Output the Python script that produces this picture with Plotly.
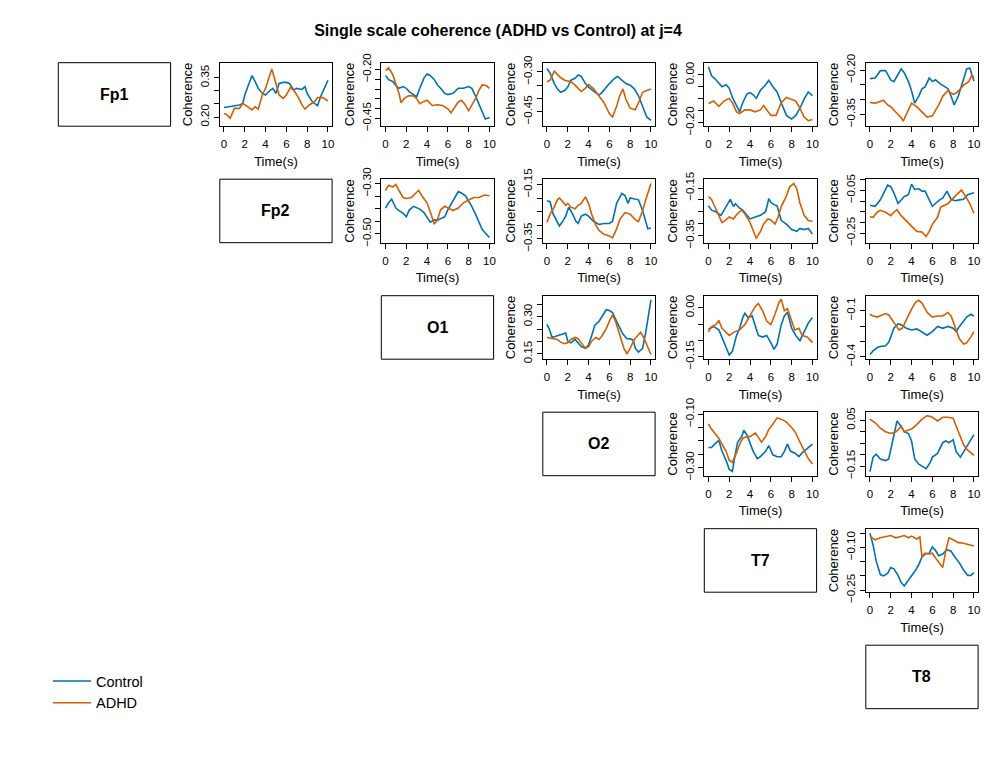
import plotly.graph_objects as go

# ---------------- data ----------------
channels = ["Fp1", "Fp2", "O1", "O2", "T7", "T8"]
time_ticks = [0, 2, 4, 6, 8, 10]
time_labels = ["0", "2", "4", "6", "8", "10"]
time_range = [-0.4, 10.4]

# Fp1 - Fp2
fp1_fp2_t_ctrl = [0, 0.5, 1, 1.5, 1.8, 2, 2.3, 2.7, 3, 3.3, 3.7, 4, 4.3, 4.7, 5, 5.3, 5.7, 6, 6.3, 6.7, 7, 7.5, 7.8, 8, 8.5, 9, 9.3, 9.7, 10]
fp1_fp2_ctrl = [0.236, 0.239, 0.243, 0.246, 0.252, 0.284, 0.316, 0.358, 0.335, 0.309, 0.29, 0.284, 0.297, 0.309, 0.29, 0.328, 0.332, 0.332, 0.328, 0.303, 0.309, 0.305, 0.316, 0.29, 0.258, 0.243, 0.278, 0.316, 0.34]
fp1_fp2_t_adhd = [0, 0.3, 0.6, 1, 1.5, 1.8, 2.3, 2.7, 3, 3.3, 3.7, 4, 4.3, 4.6, 5, 5.3, 5.7, 6, 6.4, 6.8, 7.2, 7.5, 7.8, 8.2, 8.7, 9, 9.5, 10]
fp1_fp2_adhd = [0.214, 0.208, 0.195, 0.233, 0.233, 0.252, 0.239, 0.227, 0.239, 0.23, 0.286, 0.309, 0.347, 0.383, 0.328, 0.284, 0.271, 0.284, 0.313, 0.297, 0.271, 0.246, 0.23, 0.246, 0.258, 0.274, 0.274, 0.261]
fp1_fp2_yrange = [0.165, 0.407]
fp1_fp2_yticks = [0.20, 0.25, 0.30, 0.35]
fp1_fp2_ylabels = ["0.20", "", "", "0.35"]

# Fp1 - O1
fp1_o1_t_ctrl = [0, 0.3, 0.7, 1, 1.3, 1.7, 2, 2.3, 2.7, 3, 3.3, 3.7, 4, 4.3, 4.7, 5, 5.3, 5.7, 6, 6.5, 7, 7.5, 8, 8.3, 8.7, 9, 9.3, 9.6, 10]
fp1_o1_ctrl = [-0.230, -0.252, -0.261, -0.282, -0.296, -0.287, -0.296, -0.314, -0.328, -0.34, -0.296, -0.244, -0.223, -0.23, -0.252, -0.279, -0.296, -0.322, -0.328, -0.322, -0.296, -0.296, -0.287, -0.296, -0.34, -0.375, -0.41, -0.453, -0.445]
fp1_o1_t_adhd = [0, 0.3, 0.7, 1, 1.3, 1.5, 1.8, 2.2, 2.7, 3, 3.3, 3.7, 4, 4.5, 5, 5.5, 6, 6.3, 6.7, 7, 7.3, 7.6, 8, 8.3, 8.7, 9, 9.3, 9.7, 10]
fp1_o1_adhd = [-0.205, -0.191, -0.226, -0.27, -0.322, -0.37, -0.349, -0.335, -0.335, -0.349, -0.375, -0.363, -0.357, -0.384, -0.38, -0.384, -0.401, -0.422, -0.392, -0.366, -0.357, -0.375, -0.41, -0.384, -0.345, -0.305, -0.279, -0.282, -0.296]
fp1_o1_yrange = [-0.490, -0.165]
fp1_o1_yticks = [-0.20, -0.25, -0.30, -0.35, -0.40, -0.45]
fp1_o1_ylabels = ["\u22120.20", "", "", "", "", "\u22120.45"]

# Fp1 - O2
fp1_o2_t_ctrl = [0, 0.3, 0.7, 1, 1.3, 1.7, 2, 2.3, 2.7, 3, 3.3, 3.7, 4, 4.5, 5, 5.3, 5.7, 6, 6.5, 6.8, 7.2, 7.6, 8, 8.4, 8.8, 9.2, 9.6, 10]
fp1_o2_ctrl = [-0.287, -0.304, -0.344, -0.364, -0.377, -0.37, -0.357, -0.331, -0.324, -0.311, -0.317, -0.344, -0.357, -0.374, -0.388, -0.377, -0.357, -0.344, -0.324, -0.317, -0.331, -0.344, -0.35, -0.364, -0.39, -0.43, -0.47, -0.483]
fp1_o2_t_adhd = [0, 0.3, 0.7, 1, 1.3, 1.7, 2, 2.3, 2.7, 3, 3.3, 3.7, 4, 4.5, 5, 5.5, 6, 6.3, 6.7, 7, 7.3, 7.6, 8, 8.5, 8.8, 9.2, 9.6, 10]
fp1_o2_adhd = [-0.337, -0.331, -0.297, -0.311, -0.321, -0.331, -0.335, -0.337, -0.35, -0.364, -0.374, -0.361, -0.348, -0.364, -0.39, -0.417, -0.457, -0.47, -0.43, -0.39, -0.364, -0.404, -0.437, -0.443, -0.417, -0.377, -0.37, -0.364]
fp1_o2_yrange = [-0.505, -0.265]
fp1_o2_yticks = [-0.30, -0.35, -0.40, -0.45]
fp1_o2_ylabels = ["\u22120.30", "", "", "\u22120.45"]

# Fp1 - T7
fp1_t7_t_ctrl = [0, 0.3, 0.7, 1, 1.3, 1.7, 2, 2.3, 2.7, 3, 3.3, 3.7, 4, 4.3, 4.6, 5, 5.5, 5.8, 6.2, 6.6, 7, 7.5, 8, 8.4, 8.8, 9.2, 9.6, 10]
fp1_t7_ctrl = [0.033, -0.005, -0.02, -0.035, -0.05, -0.042, -0.057, -0.095, -0.132, -0.155, -0.117, -0.08, -0.075, -0.084, -0.099, -0.065, -0.042, -0.024, -0.05, -0.072, -0.117, -0.17, -0.185, -0.17, -0.14, -0.102, -0.072, -0.087]
fp1_t7_t_adhd = [0, 0.5, 1, 1.5, 2, 2.3, 2.7, 3, 3.5, 4, 4.5, 5, 5.3, 5.7, 6, 6.5, 7, 7.5, 8, 8.4, 8.8, 9.2, 9.6, 10]
fp1_t7_adhd = [-0.12, -0.11, -0.132, -0.11, -0.099, -0.117, -0.155, -0.162, -0.147, -0.147, -0.155, -0.147, -0.129, -0.155, -0.17, -0.17, -0.117, -0.095, -0.102, -0.11, -0.14, -0.177, -0.192, -0.187]
fp1_t7_yrange = [-0.215, 0.050]
fp1_t7_yticks = [0.00, -0.05, -0.10, -0.15, -0.20]
fp1_t7_ylabels = ["0.00", "", "", "", "\u22120.20"]

# Fp1 - T8
fp1_t8_t_ctrl = [0, 0.5, 1, 1.5, 2, 2.3, 2.7, 3, 3.3, 3.7, 4, 4.3, 4.7, 5, 5.3, 5.7, 6, 6.3, 6.7, 7, 7.5, 7.8, 8.1, 8.5, 9, 9.3, 9.6, 10]
fp1_t8_ctrl = [-0.229, -0.227, -0.202, -0.202, -0.233, -0.239, -0.215, -0.196, -0.209, -0.239, -0.27, -0.312, -0.288, -0.263, -0.257, -0.227, -0.239, -0.233, -0.245, -0.251, -0.263, -0.288, -0.318, -0.288, -0.227, -0.196, -0.193, -0.237]
fp1_t8_t_adhd = [0, 0.5, 1, 1.3, 1.7, 2, 2.5, 3, 3.2, 3.5, 4, 4.5, 5, 5.5, 6, 6.3, 6.7, 7, 7.5, 8, 8.3, 8.7, 9, 9.5, 9.8, 10]
fp1_t8_adhd = [-0.31, -0.312, -0.306, -0.302, -0.318, -0.324, -0.343, -0.361, -0.373, -0.349, -0.312, -0.324, -0.343, -0.359, -0.355, -0.337, -0.312, -0.288, -0.27, -0.282, -0.278, -0.263, -0.251, -0.239, -0.217, -0.227]
fp1_t8_yrange = [-0.390, -0.175]
fp1_t8_yticks = [-0.20, -0.25, -0.30, -0.35]
fp1_t8_ylabels = ["\u22120.20", "", "", "\u22120.35"]

# Fp2 - O1
fp2_o1_t_ctrl = [0, 0.3, 0.6, 1, 1.3, 1.7, 2, 2.3, 2.7, 3, 3.3, 3.7, 4, 4.3, 4.7, 5, 5.3, 5.7, 6, 6.3, 6.7, 7, 7.3, 7.7, 8, 8.3, 8.7, 9, 9.3, 9.6, 10]
fp2_o1_ctrl = [-0.397, -0.376, -0.362, -0.397, -0.407, -0.418, -0.432, -0.404, -0.39, -0.397, -0.401, -0.415, -0.432, -0.453, -0.444, -0.446, -0.439, -0.432, -0.404, -0.383, -0.355, -0.331, -0.337, -0.348, -0.369, -0.39, -0.425, -0.453, -0.482, -0.496, -0.514]
fp2_o1_t_adhd = [0, 0.3, 0.7, 1, 1.3, 1.7, 2, 2.5, 3, 3.2, 3.5, 4, 4.3, 4.7, 5, 5.3, 5.7, 6, 6.5, 7, 7.5, 8, 8.5, 9, 9.5, 10]
fp2_o1_adhd = [-0.327, -0.306, -0.313, -0.303, -0.327, -0.355, -0.359, -0.355, -0.334, -0.327, -0.348, -0.376, -0.411, -0.461, -0.444, -0.404, -0.39, -0.397, -0.407, -0.397, -0.376, -0.365, -0.355, -0.355, -0.345, -0.348]
fp2_o1_yrange = [-0.535, -0.282]
fp2_o1_yticks = [-0.30, -0.35, -0.40, -0.45, -0.50]
fp2_o1_ylabels = ["\u22120.30", "", "", "", "\u22120.50"]

# Fp2 - O2
fp2_o2_t_ctrl = [0, 0.3, 0.6, 1, 1.2, 1.5, 1.8, 2.1, 2.4, 2.8, 3, 3.3, 3.7, 4, 4.5, 5, 5.5, 6, 6.3, 6.7, 7, 7.2, 7.5, 7.8, 8, 8.5, 8.8, 9.2, 9.5, 9.7, 10]
fp2_o2_ctrl = [-0.209, -0.213, -0.259, -0.286, -0.302, -0.286, -0.266, -0.233, -0.253, -0.286, -0.293, -0.266, -0.259, -0.266, -0.286, -0.297, -0.293, -0.293, -0.286, -0.219, -0.193, -0.182, -0.19, -0.219, -0.199, -0.203, -0.206, -0.246, -0.286, -0.313, -0.31]
fp2_o2_t_adhd = [0, 0.3, 0.7, 1, 1.2, 1.5, 1.8, 2, 2.3, 2.7, 3, 3.3, 3.7, 4, 4.3, 4.7, 5, 5.5, 6, 6.3, 6.7, 7, 7.5, 8, 8.5, 8.8, 9.2, 9.5, 9.8, 10]
fp2_o2_adhd = [-0.289, -0.259, -0.233, -0.206, -0.199, -0.213, -0.226, -0.219, -0.233, -0.239, -0.226, -0.219, -0.195, -0.219, -0.259, -0.299, -0.319, -0.333, -0.339, -0.346, -0.313, -0.279, -0.253, -0.259, -0.279, -0.286, -0.246, -0.206, -0.166, -0.146]
fp2_o2_yrange = [-0.364, -0.130]
fp2_o2_yticks = [-0.15, -0.20, -0.25, -0.30, -0.35]
fp2_o2_ylabels = ["\u22120.15", "", "", "", "\u22120.35"]

# Fp2 - T7
fp2_t7_t_ctrl = [0, 0.3, 0.7, 1, 1.2, 1.5, 1.8, 2.1, 2.4, 2.6, 3, 3.3, 3.7, 4, 4.5, 5, 5.5, 5.8, 6, 6.3, 6.6, 7, 7.5, 8, 8.5, 8.8, 9.2, 9.6, 10]
fp2_t7_ctrl = [-0.225, -0.243, -0.25, -0.257, -0.265, -0.243, -0.22, -0.198, -0.228, -0.216, -0.235, -0.243, -0.265, -0.28, -0.272, -0.265, -0.25, -0.195, -0.21, -0.22, -0.225, -0.287, -0.302, -0.325, -0.332, -0.32, -0.325, -0.32, -0.344]
fp2_t7_t_adhd = [0, 0.3, 0.6, 1, 1.3, 1.6, 2, 2.4, 2.8, 3.2, 3.6, 4, 4.3, 4.6, 5, 5.3, 5.7, 6, 6.4, 6.7, 7, 7.5, 7.8, 8.2, 8.5, 8.8, 9.2, 9.6, 10]
fp2_t7_adhd = [-0.186, -0.198, -0.228, -0.265, -0.295, -0.287, -0.272, -0.28, -0.257, -0.243, -0.265, -0.295, -0.332, -0.362, -0.332, -0.302, -0.28, -0.284, -0.302, -0.272, -0.228, -0.183, -0.146, -0.131, -0.153, -0.213, -0.265, -0.287, -0.29]
fp2_t7_yrange = [-0.380, -0.113]
fp2_t7_yticks = [-0.15, -0.20, -0.25, -0.30, -0.35]
fp2_t7_ylabels = ["\u22120.15", "", "", "", "\u22120.35"]

# Fp2 - T8
fp2_t8_t_ctrl = [0, 0.5, 1, 1.3, 1.7, 2, 2.3, 2.7, 3, 3.3, 3.7, 4, 4.3, 4.7, 5, 5.3, 5.7, 6, 6.3, 6.7, 7, 7.4, 7.8, 8.2, 8.6, 9, 9.4, 10]
fp2_t8_ctrl = [-0.119, -0.124, -0.094, -0.061, -0.025, -0.032, -0.061, -0.111, -0.094, -0.078, -0.07, -0.02, -0.045, -0.042, -0.053, -0.053, -0.094, -0.124, -0.111, -0.094, -0.086, -0.053, -0.091, -0.098, -0.094, -0.091, -0.07, -0.061]
fp2_t8_t_adhd = [0, 0.3, 0.7, 1, 1.5, 2, 2.3, 2.6, 3, 3.5, 4, 4.5, 5, 5.4, 5.7, 6, 6.5, 6.8, 7.2, 7.5, 8, 8.5, 8.8, 9.2, 9.6, 10]
fp2_t8_adhd = [-0.173, -0.176, -0.152, -0.143, -0.152, -0.168, -0.152, -0.14, -0.168, -0.193, -0.217, -0.242, -0.245, -0.266, -0.242, -0.209, -0.176, -0.127, -0.119, -0.111, -0.086, -0.061, -0.048, -0.078, -0.111, -0.157]
fp2_t8_yrange = [-0.295, 0.003]
fp2_t8_yticks = [0.00, -0.05, -0.10, -0.15, -0.20, -0.25]
fp2_t8_ylabels = ["", "\u22120.05", "", "", "", "\u22120.25"]

# O1 - O2
o1_o2_t_ctrl = [0, 0.2, 0.5, 1, 1.5, 1.8, 2, 2.3, 2.7, 3, 3.3, 3.7, 4, 4.3, 4.6, 5, 5.3, 5.7, 6, 6.3, 6.7, 7, 7.3, 7.7, 8, 8.3, 8.5, 8.8, 9.2, 9.5, 9.8, 10]
o1_o2_ctrl = [0.269, 0.252, 0.216, 0.223, 0.23, 0.234, 0.201, 0.194, 0.208, 0.194, 0.179, 0.172, 0.186, 0.223, 0.266, 0.281, 0.303, 0.328, 0.325, 0.317, 0.281, 0.252, 0.23, 0.211, 0.211, 0.205, 0.172, 0.157, 0.172, 0.237, 0.31, 0.368]
o1_o2_t_adhd = [0, 0.5, 1, 1.3, 1.7, 2, 2.3, 2.7, 3, 3.3, 3.7, 4, 4.3, 4.7, 5, 5.3, 5.7, 6, 6.3, 6.6, 7, 7.4, 7.7, 8, 8.4, 8.8, 9, 9.3, 9.7, 10]
o1_o2_adhd = [0.216, 0.211, 0.208, 0.197, 0.191, 0.194, 0.208, 0.216, 0.211, 0.194, 0.172, 0.179, 0.201, 0.216, 0.208, 0.223, 0.252, 0.281, 0.307, 0.281, 0.223, 0.172, 0.15, 0.172, 0.208, 0.23, 0.237, 0.216, 0.172, 0.147]
o1_o2_yrange = [0.128, 0.385]
o1_o2_yticks = [0.15, 0.20, 0.25, 0.30, 0.35]
o1_o2_ylabels = ["0.15", "", "", "0.30", ""]

# O1 - T7
o1_t7_t_ctrl = [0, 0.5, 1, 1.3, 1.7, 2, 2.3, 2.7, 3, 3.3, 3.5, 3.8, 4.2, 4.5, 4.8, 5.2, 5.6, 6, 6.3, 6.6, 7, 7.3, 7.6, 8, 8.4, 8.8, 9.2, 9.6, 10]
o1_t7_ctrl = [-0.065, -0.058, -0.068, -0.09, -0.123, -0.145, -0.134, -0.085, -0.063, -0.03, -0.017, -0.03, -0.025, -0.058, -0.085, -0.09, -0.085, -0.107, -0.128, -0.112, -0.052, -0.025, -0.014, -0.063, -0.085, -0.101, -0.074, -0.047, -0.03]
o1_t7_t_adhd = [0, 0.3, 0.7, 1, 1.3, 1.7, 2, 2.5, 3, 3.5, 4, 4.5, 4.8, 5.2, 5.6, 6, 6.4, 6.8, 7, 7.3, 7.6, 8, 8.3, 8.7, 9, 9.5, 10]
o1_t7_adhd = [-0.074, -0.058, -0.052, -0.039, -0.063, -0.074, -0.085, -0.074, -0.068, -0.052, -0.025, 0.004, 0.013, -0.009, -0.041, -0.052, -0.02, 0.018, 0.026, -0.009, -0.003, -0.041, -0.068, -0.063, -0.085, -0.09, -0.107]
o1_t7_yrange = [-0.158, 0.037]
o1_t7_yticks = [0.00, -0.05, -0.10, -0.15]
o1_t7_ylabels = ["0.00", "", "", "\u22120.15"]

# O1 - T8
o1_t8_t_ctrl = [0, 0.3, 0.7, 1, 1.5, 1.8, 2, 2.3, 2.7, 3, 3.5, 4, 4.5, 5, 5.5, 6, 6.5, 7, 7.5, 8, 8.3, 8.6, 9, 9.3, 9.7, 10]
o1_t8_ctrl = [-0.384, -0.361, -0.339, -0.332, -0.327, -0.305, -0.27, -0.214, -0.186, -0.191, -0.214, -0.225, -0.218, -0.236, -0.259, -0.236, -0.202, -0.214, -0.202, -0.214, -0.236, -0.202, -0.168, -0.141, -0.123, -0.134]
o1_t8_t_adhd = [0, 0.3, 0.7, 1, 1.5, 1.8, 2.1, 2.5, 2.8, 3.1, 3.5, 4, 4.4, 4.7, 5, 5.5, 6, 6.5, 7, 7.5, 7.8, 8.2, 8.6, 9, 9.3, 9.7, 10]
o1_t8_adhd = [-0.123, -0.134, -0.141, -0.134, -0.118, -0.127, -0.157, -0.202, -0.225, -0.214, -0.157, -0.089, -0.043, -0.032, -0.05, -0.111, -0.141, -0.134, -0.134, -0.111, -0.134, -0.202, -0.282, -0.316, -0.309, -0.27, -0.236]
o1_t8_yrange = [-0.415, -0.002]
o1_t8_yticks = [-0.1, -0.2, -0.3, -0.4]
o1_t8_ylabels = ["\u22120.1", "", "", "\u22120.4"]

# O2 - T7
o2_t7_t_ctrl = [0, 0.3, 0.6, 1, 1.3, 1.7, 2, 2.3, 2.5, 2.8, 3.2, 3.4, 3.7, 4, 4.3, 4.7, 5, 5.5, 5.8, 6.2, 6.6, 7, 7.3, 7.6, 7.9, 8.3, 8.7, 9, 9.4, 9.8, 10]
o2_t7_ctrl = [-0.225, -0.225, -0.212, -0.198, -0.239, -0.273, -0.307, -0.314, -0.266, -0.205, -0.184, -0.16, -0.178, -0.212, -0.239, -0.266, -0.259, -0.239, -0.218, -0.252, -0.259, -0.259, -0.239, -0.212, -0.239, -0.245, -0.259, -0.245, -0.232, -0.218, -0.212]
o2_t7_t_adhd = [0, 0.3, 0.6, 1, 1.3, 1.7, 2, 2.3, 2.7, 3, 3.3, 3.7, 4, 4.5, 4.8, 5.1, 5.5, 5.8, 6.2, 6.6, 7, 7.5, 8, 8.4, 8.8, 9.2, 9.6, 10]
o2_t7_adhd = [-0.137, -0.157, -0.171, -0.191, -0.212, -0.239, -0.273, -0.28, -0.245, -0.212, -0.191, -0.184, -0.184, -0.171, -0.187, -0.205, -0.184, -0.157, -0.137, -0.114, -0.119, -0.13, -0.15, -0.171, -0.205, -0.236, -0.266, -0.286]
o2_t7_yrange = [-0.330, -0.093]
o2_t7_yticks = [-0.10, -0.15, -0.20, -0.25, -0.30]
o2_t7_ylabels = ["\u22120.10", "", "", "", "\u22120.30"]

# O2 - T8
o2_t8_t_ctrl = [0, 0.3, 0.6, 1, 1.5, 1.8, 2, 2.3, 2.6, 3, 3.3, 3.7, 4, 4.3, 4.7, 5, 5.4, 5.8, 6, 6.5, 7, 7.3, 7.6, 8, 8.3, 8.7, 9, 9.4, 9.7, 10]
o2_t8_ctrl = [-0.174, -0.111, -0.098, -0.119, -0.126, -0.119, -0.079, -0.016, 0.047, 0.023, 0.0, -0.008, -0.04, -0.119, -0.142, -0.15, -0.161, -0.134, -0.111, -0.095, -0.048, -0.04, -0.048, -0.035, -0.087, -0.111, -0.087, -0.056, -0.032, -0.013]
o2_t8_t_adhd = [0, 0.5, 1, 1.5, 2, 2.5, 3, 3.3, 3.7, 4, 4.5, 5, 5.5, 6, 6.5, 7, 7.5, 8, 8.5, 9, 9.3, 9.7, 10]
o2_t8_adhd = [0.055, 0.039, 0.015, 0.0, -0.008, 0.0, 0.023, 0.0, 0.007, 0.012, 0.031, 0.055, 0.07, 0.063, 0.047, 0.063, 0.063, 0.059, 0.0, -0.056, -0.076, -0.092, -0.103]
o2_t8_yrange = [-0.192, 0.085]
o2_t8_yticks = [0.05, 0.00, -0.05, -0.10, -0.15]
o2_t8_ylabels = ["0.05", "", "", "", "\u22120.15"]

# T7 - T8
t7_t8_t_ctrl = [0, 0.3, 0.6, 1, 1.3, 1.7, 2, 2.3, 2.7, 3, 3.3, 3.7, 4, 4.4, 4.7, 5, 5.3, 5.7, 6, 6.3, 6.6, 7, 7.4, 7.8, 8.2, 8.6, 9, 9.4, 9.7, 10]
t7_t8_ctrl = [-0.05, -0.091, -0.148, -0.195, -0.2, -0.191, -0.17, -0.175, -0.198, -0.223, -0.235, -0.216, -0.198, -0.179, -0.16, -0.133, -0.123, -0.12, -0.098, -0.11, -0.129, -0.123, -0.108, -0.113, -0.135, -0.154, -0.179, -0.198, -0.198, -0.188]
t7_t8_t_adhd = [0, 0.5, 1, 1.5, 2, 2.5, 3, 3.3, 3.7, 4, 4.5, 4.8, 5, 5.3, 5.7, 6, 6.4, 6.8, 7, 7.3, 7.6, 8, 8.5, 9, 9.5, 10]
t7_t8_adhd = [-0.06, -0.073, -0.066, -0.063, -0.058, -0.066, -0.06, -0.058, -0.066, -0.06, -0.07, -0.063, -0.133, -0.12, -0.123, -0.12, -0.141, -0.16, -0.17, -0.11, -0.066, -0.073, -0.083, -0.085, -0.091, -0.095]
t7_t8_yrange = [-0.257, -0.034]
t7_t8_yticks = [-0.05, -0.10, -0.15, -0.20, -0.25]
t7_t8_ylabels = ["", "\u22120.10", "", "", "\u22120.25"]

# (row, col, ctrl t, ctrl y, adhd t, adhd y, y range, y ticks, y tick labels)
panels = [
    (0, 1, fp1_fp2_t_ctrl, fp1_fp2_ctrl, fp1_fp2_t_adhd, fp1_fp2_adhd, fp1_fp2_yrange, fp1_fp2_yticks, fp1_fp2_ylabels),
    (0, 2, fp1_o1_t_ctrl, fp1_o1_ctrl, fp1_o1_t_adhd, fp1_o1_adhd, fp1_o1_yrange, fp1_o1_yticks, fp1_o1_ylabels),
    (0, 3, fp1_o2_t_ctrl, fp1_o2_ctrl, fp1_o2_t_adhd, fp1_o2_adhd, fp1_o2_yrange, fp1_o2_yticks, fp1_o2_ylabels),
    (0, 4, fp1_t7_t_ctrl, fp1_t7_ctrl, fp1_t7_t_adhd, fp1_t7_adhd, fp1_t7_yrange, fp1_t7_yticks, fp1_t7_ylabels),
    (0, 5, fp1_t8_t_ctrl, fp1_t8_ctrl, fp1_t8_t_adhd, fp1_t8_adhd, fp1_t8_yrange, fp1_t8_yticks, fp1_t8_ylabels),
    (1, 2, fp2_o1_t_ctrl, fp2_o1_ctrl, fp2_o1_t_adhd, fp2_o1_adhd, fp2_o1_yrange, fp2_o1_yticks, fp2_o1_ylabels),
    (1, 3, fp2_o2_t_ctrl, fp2_o2_ctrl, fp2_o2_t_adhd, fp2_o2_adhd, fp2_o2_yrange, fp2_o2_yticks, fp2_o2_ylabels),
    (1, 4, fp2_t7_t_ctrl, fp2_t7_ctrl, fp2_t7_t_adhd, fp2_t7_adhd, fp2_t7_yrange, fp2_t7_yticks, fp2_t7_ylabels),
    (1, 5, fp2_t8_t_ctrl, fp2_t8_ctrl, fp2_t8_t_adhd, fp2_t8_adhd, fp2_t8_yrange, fp2_t8_yticks, fp2_t8_ylabels),
    (2, 3, o1_o2_t_ctrl, o1_o2_ctrl, o1_o2_t_adhd, o1_o2_adhd, o1_o2_yrange, o1_o2_yticks, o1_o2_ylabels),
    (2, 4, o1_t7_t_ctrl, o1_t7_ctrl, o1_t7_t_adhd, o1_t7_adhd, o1_t7_yrange, o1_t7_yticks, o1_t7_ylabels),
    (2, 5, o1_t8_t_ctrl, o1_t8_ctrl, o1_t8_t_adhd, o1_t8_adhd, o1_t8_yrange, o1_t8_yticks, o1_t8_ylabels),
    (3, 4, o2_t7_t_ctrl, o2_t7_ctrl, o2_t7_t_adhd, o2_t7_adhd, o2_t7_yrange, o2_t7_yticks, o2_t7_ylabels),
    (3, 5, o2_t8_t_ctrl, o2_t8_ctrl, o2_t8_t_adhd, o2_t8_adhd, o2_t8_yrange, o2_t8_yticks, o2_t8_ylabels),
    (4, 5, t7_t8_t_ctrl, t7_t8_ctrl, t7_t8_t_adhd, t7_t8_adhd, t7_t8_yrange, t7_t8_yticks, t7_t8_ylabels),
]

# ---------------- style / layout ----------------
W, H = 996, 767
COL0, COL_STEP, CELL_W = 58.3, 161.5, 112.3
ROW0, ROW_STEP, CELL_H = 62.7, 116.5, 63.5
BLUE = "#0072B2"
ORANGE = "#D55E00"
FONT = "Liberation Sans, Arial, Helvetica, sans-serif"


def xdom(c):
    left = COL0 + COL_STEP * c
    return [left / W, (left + CELL_W) / W]


def ydom(r):
    top = ROW0 + ROW_STEP * r
    return [1 - (top + CELL_H) / H, 1 - top / H]


fig = go.Figure()
layout = {}

for k, (r, c, tc, yc, ta, ya, yr, yt, yl) in enumerate(panels, start=1):
    xname = "x" if k == 1 else f"x{k}"
    yname = "y" if k == 1 else f"y{k}"
    fig.add_trace(go.Scatter(x=tc, y=yc, mode="lines", name="Control",
                             line=dict(color=BLUE, width=1.6),
                             showlegend=(k == 1), xaxis=xname, yaxis=yname))
    fig.add_trace(go.Scatter(x=ta, y=ya, mode="lines", name="ADHD",
                             line=dict(color=ORANGE, width=1.6),
                             showlegend=(k == 1), xaxis=xname, yaxis=yname))
    common = dict(showline=True, mirror=True, linecolor="black", linewidth=1,
                  ticks="outside", ticklen=5, tickwidth=1, tickcolor="black",
                  showgrid=False, zeroline=False, automargin=False,
                  tickfont=dict(family=FONT, size=11.5, color="black"))
    layout["xaxis" if k == 1 else f"xaxis{k}"] = dict(
        common, domain=xdom(c), anchor=yname, range=time_range,
        tickmode="array", tickvals=time_ticks, ticktext=time_labels,
        ticklabelstandoff=2,
        title=dict(text="Time(s)", font=dict(family=FONT, size=13, color="black"), standoff=7))
    layout["yaxis" if k == 1 else f"yaxis{k}"] = dict(
        common, domain=ydom(r), anchor=xname, range=yr,
        tickmode="array", tickvals=yt, ticktext=yl, tickangle=-90,
        title=dict(text="Coherence", font=dict(family=FONT, size=13, color="black"), standoff=3))

shapes = []
annotations = []
for i, ch in enumerate(channels):
    xd = xdom(i)
    yd = ydom(i)
    shapes.append(dict(type="rect", xref="paper", yref="paper",
                       x0=xd[0], x1=xd[1], y0=yd[0], y1=yd[1],
                       line=dict(color="black", width=1), fillcolor="rgba(0,0,0,0)"))
    annotations.append(dict(text=f"<b>{ch}</b>", xref="paper", yref="paper",
                            x=(xd[0] + xd[1]) / 2, y=(yd[0] + yd[1]) / 2,
                            xanchor="center", yanchor="middle",
                            showarrow=False, font=dict(family=FONT, size=16, color="black")))

fig.update_layout(
    **layout,
    template="none",
    width=W, height=H,
    margin=dict(l=0, r=0, t=0, b=0, autoexpand=False),
    paper_bgcolor="white", plot_bgcolor="white",
    title=dict(text="<b>Single scale coherence (ADHD vs Control) at j=4</b>",
               x=0.5, xanchor="center", y=1 - 30 / H, yanchor="middle",
               font=dict(family=FONT, size=16, color="black")),
    shapes=shapes, annotations=annotations,
    showlegend=True,
    legend=dict(x=48 / W, y=1 - 665 / H, xanchor="left", yanchor="top",
                font=dict(family=FONT, size=14.5, color="black"),
                itemwidth=38,
                bgcolor="rgba(0,0,0,0)", borderwidth=0, tracegroupgap=0),
)

fig.write_html("out.html", config={"displayModeBar": False},
               post_script="document.body.style.margin='0';document.body.style.padding='0';")
